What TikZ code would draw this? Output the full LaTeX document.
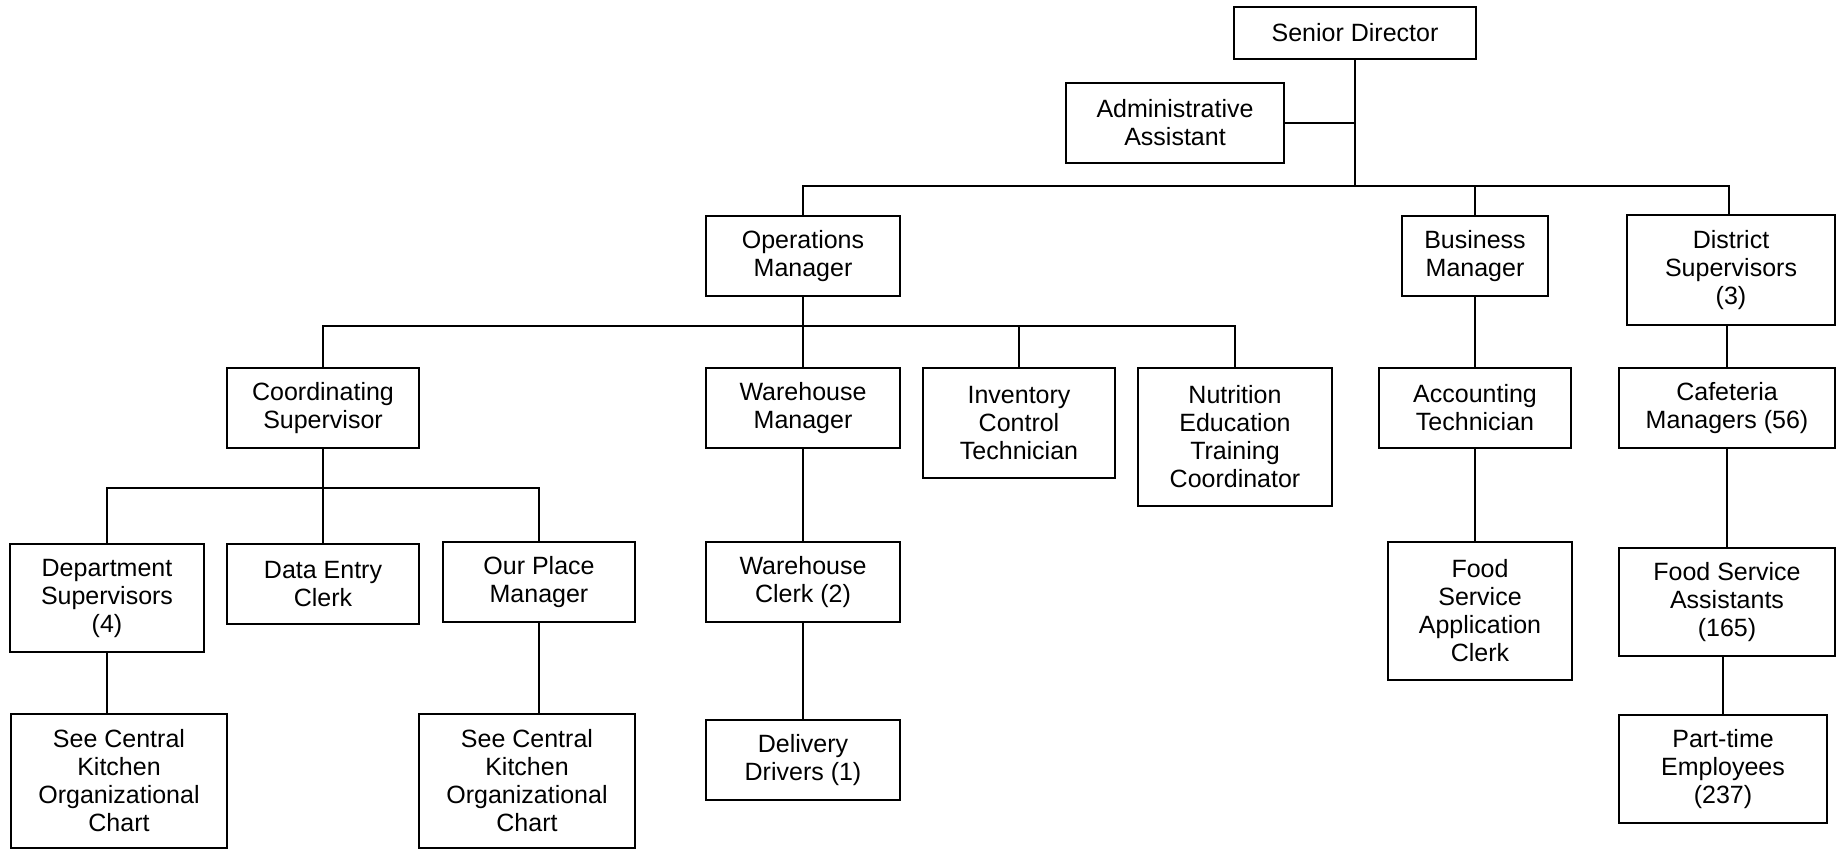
\documentclass[tikz,border=0pt]{standalone}
\usepackage{fontspec}
\setmainfont{Liberation Sans}
\begin{document}
\begin{tikzpicture}[x=0.5pt,y=-0.5pt,
  box/.style={draw=black, line width=1pt, fill=white, inner sep=0pt, align=center,
    font=\fontsize{12.5pt}{14pt}\selectfont},
  link/.style={draw=black, line width=1pt}]
\useasboundingbox (0,0) rectangle (1840,849);

% top level
\node[box, minimum width=121pt, minimum height=26pt] (sd) at (1355,33) {Senior Director};
\node[box, minimum width=109pt, minimum height=40pt] (aa) at (1175,123) {Administrative\\Assistant};

% managers
\node[box, minimum width=97pt, minimum height=40pt] (ops) at (803,256) {Operations\\Manager};
\node[box, minimum width=73pt, minimum height=40pt] (bus) at (1475,256) {Business\\Manager};
\node[box, minimum width=104pt, minimum height=55pt] (dist) at (1731,270) {District\\Supervisors\\(3)};

% third level
\node[box, minimum width=96pt, minimum height=40pt] (coord) at (323,408) {Coordinating\\Supervisor};
\node[box, minimum width=97pt, minimum height=40pt] (wm) at (803,408) {Warehouse\\Manager};
\node[box, minimum width=96pt, minimum height=55pt] (inv) at (1019,423) {Inventory\\Control\\Technician};
\node[box, minimum width=97pt, minimum height=69pt] (nut) at (1235,437) {Nutrition\\Education\\Training\\Coordinator};
\node[box, minimum width=96pt, minimum height=40pt] (acct) at (1475,408) {Accounting\\Technician};
\node[box, minimum width=108pt, minimum height=40pt] (caf) at (1727,408) {Cafeteria\\Managers (56)};

% fourth level
\node[box, minimum width=97pt, minimum height=54pt] (dept) at (107,598) {Department\\Supervisors\\(4)};
\node[box, minimum width=96pt, minimum height=40pt] (dec) at (323,584) {Data Entry\\Clerk};
\node[box, minimum width=96pt, minimum height=40pt] (opm) at (539,582) {Our Place\\Manager};
\node[box, minimum width=97pt, minimum height=40pt] (wc) at (803,582) {Warehouse\\Clerk (2)};
\node[box, minimum width=92pt, minimum height=69pt] (fsac) at (1480,611) {Food\\Service\\Application\\Clerk};
\node[box, minimum width=108pt, minimum height=54pt] (fsa) at (1727,602) {Food Service\\Assistants\\(165)};

% bottom level
\node[box, minimum width=108pt, minimum height=67pt] (sc1) at (119,781) {See Central\\Kitchen\\Organizational\\Chart};
\node[box, minimum width=108pt, minimum height=67pt] (sc2) at (527,781) {See Central\\Kitchen\\Organizational\\Chart};
\node[box, minimum width=97pt, minimum height=40pt] (dd) at (803,760) {Delivery\\Drivers (1)};
\node[box, minimum width=104pt, minimum height=54pt] (pt) at (1723,769) {Part-time\\Employees\\(237)};

% bus bars
\coordinate (bar1) at (0,186);
\coordinate (bar2) at (0,326);
\coordinate (bar3) at (0,488);
\coordinate (distin) at (1729,186);

% senior director branch
\draw[link] (sd.south) -- (sd.south |- bar1);
\draw[link] (aa.east) -- (aa.east -| sd.south);
\draw[link] (ops.north) -- (ops.north |- bar1) -- (distin) -- (distin |- dist.north);
\draw[link] (bus.north) -- (bus.north |- bar1);

% operations manager branch
\draw[link] (ops.south) -- (ops.south |- bar2);
\draw[link] (coord.north) -- (coord.north |- bar2) -- (nut.north |- bar2) -- (nut.north);
\draw[link] (wm.north) -- (wm.north |- bar2);
\draw[link] (inv.north) -- (inv.north |- bar2);

% coordinating supervisor branch
\draw[link] (coord.south) -- (coord.south |- bar3);
\draw[link] (dept.north) -- (dept.north |- bar3) -- (opm.north |- bar3) -- (opm.north);
\draw[link] (dec.north) -- (dec.north |- bar3);
\draw[link] (dept.south) -- (dept.south |- sc1.north);
\draw[link] (opm.south) -- (opm.south |- sc2.north);

% warehouse chain
\draw[link] (wm.south) -- (wc.north);
\draw[link] (wc.south) -- (dd.north);

% business chain
\draw[link] (bus.south) -- (bus.south |- acct.north);
\draw[link] (acct.south) -- (acct.south |- fsac.north);

% district chain
\draw[link] (caf.north) -- (caf.north |- dist.south);
\draw[link] (caf.south) -- (fsa.north);
\draw[link] (pt.north) -- (pt.north |- fsa.south);
\end{tikzpicture}
\end{document}
